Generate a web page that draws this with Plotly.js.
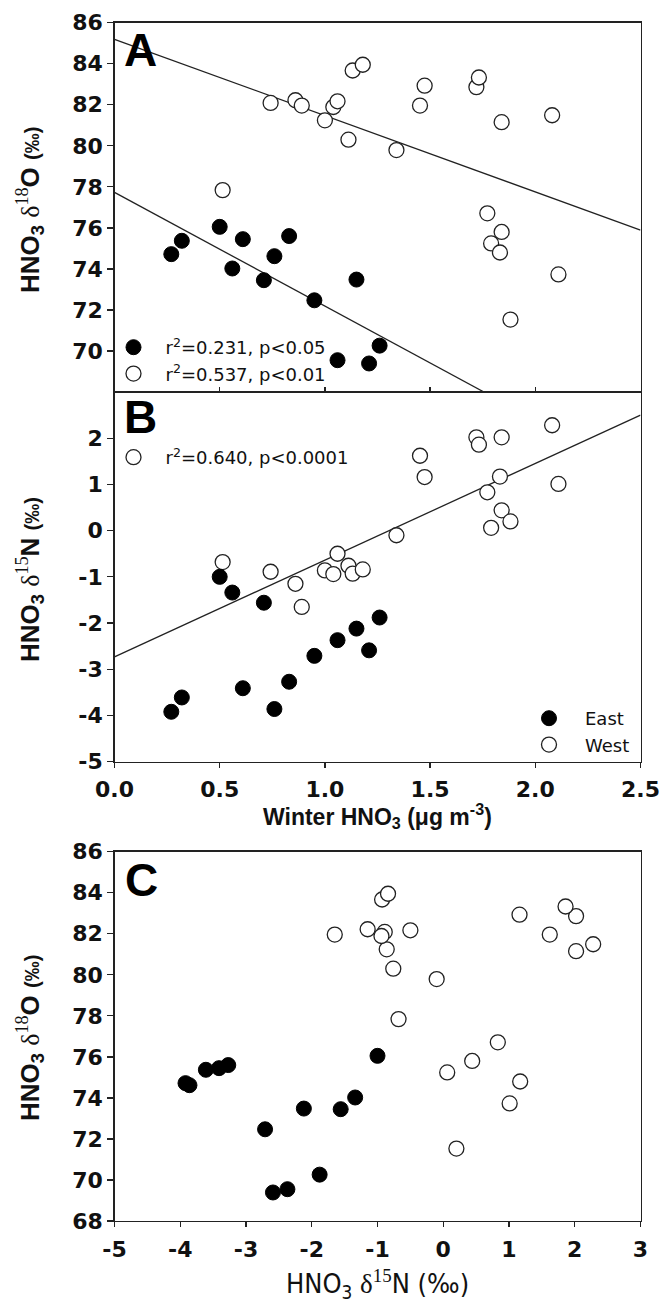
<!DOCTYPE html>
<html>
<head>
<meta charset="utf-8">
<script src="https://cdn.plot.ly/plotly-3.0.1.min.js"></script>
<style>html,body{margin:0;padding:0;background:#fff;}#chart{width:660px;height:1305px;}</style>
</head>
<body>
<div id="chart"></div>
<script>
// ---- Data ----
const eastX = [0.27, 0.32, 0.50, 0.56, 0.61, 0.71, 0.76, 0.83, 0.95, 1.06, 1.15, 1.21, 1.26];
const eastD18O = [74.72, 75.37, 76.05, 74.02, 75.45, 73.45, 74.62, 75.60, 72.47, 69.55, 73.48, 69.39, 70.26];
const eastD15N = [-3.92, -3.61, -1.00, -1.34, -3.41, -1.56, -3.86, -3.27, -2.71, -2.37, -2.12, -2.59, -1.88];

const westX = [0.514, 0.742, 0.86, 0.89, 1.00, 1.04, 1.06, 1.112, 1.132, 1.18, 1.34, 1.452, 1.474, 1.72, 1.732, 1.772, 1.79, 1.832, 1.84, 1.84, 1.882, 2.08, 2.11];
const westD18O = [77.84, 82.09, 82.22, 81.96, 81.24, 81.89, 82.17, 80.30, 83.67, 83.95, 79.79, 81.96, 82.93, 82.86, 83.33, 76.71, 75.24, 74.80, 81.15, 75.80, 71.53, 81.49, 73.73];
const westD15N = [-0.68, -0.89, -1.15, -1.65, -0.86, -0.94, -0.50, -0.76, -0.93, -0.84, -0.10, 1.62, 1.16, 2.02, 1.86, 0.83, 0.06, 1.17, 2.02, 0.44, 0.20, 2.28, 1.01];

// regression lines (end points)
const fitEastA_x = [0, 1.756];
const fitEastA_y = [77.73, 68];
const fitWestA_x = [0, 2.5];
const fitWestA_y = [85.19, 75.89];
const fitWestB_x = [0, 2.5];
const fitWestB_y = [-2.73, 2.5];

// legend / stats labels
const statEastA = 'r<sup>2</sup>=0.231, p<0.05';
const statWestA = 'r<sup>2</sup>=0.537, p<0.01';
const statWestB = 'r<sup>2</sup>=0.640, p<0.0001';
const groupNames = ['East', 'West'];

// ticks
const ticksWinter = [0, 0.5, 1.0, 1.5, 2.0, 2.5];
const ticksWinterText = ['0.0', '0.5', '1.0', '1.5', '2.0', '2.5'];
const ticksO = [70, 72, 74, 76, 78, 80, 82, 84, 86];
const ticksOC = [68, 70, 72, 74, 76, 78, 80, 82, 84, 86];
const ticksN = [-5, -4, -3, -2, -1, 0, 1, 2];
const ticksNC = [-5, -4, -3, -2, -1, 0, 1, 2, 3];

// ---- Geometry (pixels) ----
const W = 660, H = 1305;
const L = 114.5, R = 640.5;
const A_top = 22.7, A_bot = 392, B_bot = 761.7, C_top = 851.7, C_bot = 1221;
const px = v => v / W;
const py = v => 1 - v / H;

const tickFont = {family: 'DejaVu Sans, Arial, sans-serif', size: 22, weight: 'bold', color: '#111'};
const lineCol = '#222';

function ax(extra) {
  return Object.assign({
    showline: true, linecolor: lineCol, linewidth: 1.3, mirror: true,
    showgrid: false, zeroline: false, ticks: 'outside', ticklen: 6, tickwidth: 1.3,
    tickcolor: lineCol, tickfont: tickFont, fixedrange: true
  }, extra);
}

const eastMarker = {symbol: 'circle', size: 15, color: '#000', line: {color: '#000', width: 1}};
const westMarker = {symbol: 'circle', size: 15, color: '#fff', line: {color: '#222', width: 1.3}};
const fitLine = {color: '#222', width: 1.3};

const traces = [
  // Panel A
  {x: fitEastA_x, y: fitEastA_y, xaxis: 'x', yaxis: 'y', mode: 'lines', line: fitLine, showlegend: false},
  {x: fitWestA_x, y: fitWestA_y, xaxis: 'x', yaxis: 'y', mode: 'lines', line: fitLine, showlegend: false},
  {x: eastX, y: eastD18O, xaxis: 'x', yaxis: 'y', mode: 'markers', marker: eastMarker, name: statEastA, legend: 'legend2'},
  {x: westX, y: westD18O, xaxis: 'x', yaxis: 'y', mode: 'markers', marker: westMarker, name: statWestA, legend: 'legend2'},
  // Panel B
  {x: fitWestB_x, y: fitWestB_y, xaxis: 'x2', yaxis: 'y2', mode: 'lines', line: fitLine, showlegend: false},
  {x: westX, y: westD15N, xaxis: 'x2', yaxis: 'y2', mode: 'markers', marker: westMarker, name: statWestB, legend: 'legend3'},
  {x: eastX, y: eastD15N, xaxis: 'x2', yaxis: 'y2', mode: 'markers', marker: eastMarker, name: groupNames[0], legend: 'legend'},
  // Panel C
  {x: westD15N, y: westD18O, xaxis: 'x3', yaxis: 'y3', mode: 'markers', marker: westMarker, name: groupNames[1], legend: 'legend'},
  {x: eastD15N, y: eastD18O, xaxis: 'x3', yaxis: 'y3', mode: 'markers', marker: eastMarker, showlegend: false}
];

const legFont = {family: 'DejaVu Sans, Arial, sans-serif', size: 18, color: '#111'};
const legBase = {bgcolor: 'rgba(0,0,0,0)', borderwidth: 0, font: legFont, itemsizing: 'trace', xanchor: 'left', yanchor: 'top', tracegroupgap: 0};

const yTitleFont = {family: 'Liberation Sans, Arial, sans-serif', size: 26, weight: 'bold', color: '#111'};
const serif = "font-family:'Liberation Serif',serif;font-weight:normal";
const permil = '<span style="font-size:20px">(‰)</span>';
const letterFont = {family: 'Liberation Sans, Arial', size: 46, weight: 'bold', color: '#000'};

function note(text, x, y, font, extra) {
  return Object.assign({text: text, x: px(x), y: py(y), xref: 'paper', yref: 'paper', xanchor: 'center', yanchor: 'middle', showarrow: false, font: font}, extra || {});
}

const annotations = [
  note('A', 140, 50, letterFont),
  note('B', 140, 417, letterFont),
  note('C', 141, 880, letterFont),
  note('HNO<sub>3</sub> <span style="' + serif + '">δ<sup>18</sup></span>O ' + permil, 30, 210, yTitleFont, {textangle: -90}),
  note('HNO<sub>3</sub> <span style="' + serif + '">δ<sup>15</sup></span>N ' + permil, 30, 580, yTitleFont, {textangle: -90}),
  note('HNO<sub>3</sub> <span style="' + serif + '">δ<sup>18</sup></span>O ' + permil, 30, 1038, yTitleFont, {textangle: -90}),
  note('Winter HNO<sub>3</sub> (μg m<sup>-3</sup>)', 377.5, 816, {family: 'Liberation Sans, Arial, sans-serif', size: 23, weight: 'bold', color: '#111'}),
  note('HNO<sub>3</sub> <span style="font-family:\'Liberation Serif\',serif">δ<sup>15</sup></span>N (‰)', 377.5, 1284, {family: 'Liberation Sans Narrow, DejaVu Sans Condensed, Arial Narrow, sans-serif', size: 27, color: '#111'})
];

const layout = {
  width: W, height: H, margin: {l: 0, r: 0, t: 0, b: 0},
  paper_bgcolor: '#fff', plot_bgcolor: '#fff', showlegend: true,
  xaxis: ax({domain: [px(L), px(R)], range: [0, 2.5], anchor: 'y', ticks: 'inside', ticklen: 5, tickvals: [0.5, 1.0, 1.5, 2.0], showticklabels: false}),
  yaxis: ax({domain: [py(A_bot), py(A_top)], range: [68, 86], anchor: 'x', tickvals: ticksO}),
  xaxis2: ax({domain: [px(L), px(R)], range: [0, 2.5], anchor: 'y2', tickvals: ticksWinter, ticktext: ticksWinterText, ticklen: 5, ticklabelstandoff: 3}),
  yaxis2: ax({domain: [py(B_bot), py(A_bot)], range: [-5, 3], anchor: 'x2', tickvals: ticksN, ticktext: ticksN.map(String)}),
  xaxis3: ax({domain: [px(L), px(R)], range: [-5, 3], anchor: 'y3', tickvals: ticksNC, ticktext: ticksNC.map(String), ticklen: 5, ticklabelstandoff: 3}),
  yaxis3: ax({domain: [py(C_bot), py(C_top)], range: [68, 86], anchor: 'x3', tickvals: ticksOC}),
  legend: Object.assign({}, legBase, {x: px(513), y: py(700), itemwidth: 62}),
  legend2: Object.assign({}, legBase, {x: px(101.5), y: py(329), itemwidth: 54}),
  legend3: Object.assign({}, legBase, {x: px(101.5), y: py(439), itemwidth: 54}),
  annotations: annotations
};

Plotly.newPlot('chart', traces, layout, {displayModeBar: false, staticPlot: true});
</script>
</body>
</html>
